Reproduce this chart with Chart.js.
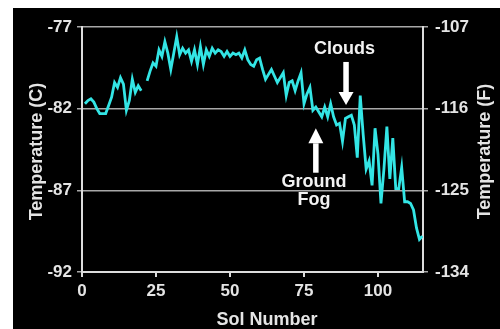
<!DOCTYPE html>
<html>
<head>
<meta charset="utf-8">
<script src="https://cdn.jsdelivr.net/npm/chart.js@4/dist/chart.umd.min.js"></script>
<style>
  html, body { margin: 0; padding: 0; background: #fff; }
  canvas { display: block; }
</style>
</head>
<body>
<canvas id="c" width="500" height="329"></canvas>
<script>
// Daily temperature record, sol by sol (null = no reading)
const sols = [
  1, 2, 3, 4, 5, 6, 7, 8, 9, 10,
  11, 12, 13, 14, 15, 16, 17, 18, 19, 20,
  21, 22, 23, 24, 25, 26, 27, 28, 29, 30,
  31, 32, 33, 34, 35, 36, 37, 38, 39, 40,
  41, 42, 43, 44, 45, 46, 47, 48, 49, 50,
  51, 52, 53, 54, 55, 56, 57, 58, 59, 60,
  61, 62, 63, 64, 65, 66, 67, 68, 69, 70,
  71, 72, 73, 74, 75, 76, 77, 78, 79, 80,
  81, 82, 83, 84, 85, 86, 87, 88, 89, 90,
  91, 92, 93, 94, 95, 96, 97, 98, 99, 100,
  101, 102, 103, 104, 105, 106, 107, 108, 109, 110,
  111, 112, 113, 114, 115
];
const tempC = [
  -81.7, -81.5, -81.4, -81.6, -82.0, -82.3, -82.3, -82.3, -81.8, -81.3,
  -80.4, -80.7, -80.1, -80.5, -82.1, -81.5, -80.2, -81.0, -80.6, -80.9,
  null, -80.3, -79.7, -79.2, -79.4, -78.4, -78.8, -77.9, -78.6, -79.6,
  -78.6, -77.6, -78.7, -78.3, -78.6, -78.4, -79.1, -78.4, -79.3, -78.2,
  -79.3, -78.4, -78.8, -78.3, -78.6, -78.4, -78.5, -78.8, -78.5, -78.8,
  -78.6, -78.7, -78.6, -78.9, -78.4, -79.0, -79.3, -79.4, -79.0, -78.9,
  -79.6, -80.2, -79.9, -79.6, -80.0, -80.4, -80.1, -79.8, -81.2, -80.4,
  -80.3, -80.9, -80.3, -79.8, -81.7, -81.1, -80.7, -82.1, -81.9, -82.2,
  -82.5, -81.9, -82.5, -81.7, -82.5, -83.0, -82.9, -84.0, -82.6, -82.5,
  -82.4, -83.0, -85.0, -81.2, -83.6, -85.7, -85.2, -86.7, -83.2, -84.8,
  -87.8, -85.7, -83.1, -86.3, -83.8, -86.9, -86.9, -85.6, -87.7, -87.7,
  -87.8, -88.2, -89.3, -90.0, -89.8
];

const xTicks = [0, 25, 50, 75, 100];
const cTicks = [-92, -87, -82, -77];
const fTicks = [-134, -125, -116, -107];

// Callouts: label lines, arrow sol, arrow tail / tip temperatures
const calloutClouds = { text: ['Clouds'], sol: 89.2, textSol: 88.7, textC: [-78.35], tailC: -79.14, baseC: -80.98, tipC: -81.78 };
const calloutFog = { text: ['Ground', 'Fog'], sol: 79.0, textSol: 78.4, textC: [-86.49, -87.59], tailC: -85.86, baseC: -84.12, tipC: -83.2 };

const FONT = "'Liberation Sans', Arial, sans-serif";
const TEXT = '#e4e4e4';
const AXIS = '#dcdcdc';
const GRID = '#a8a8a8';

const background = {
  id: 'background',
  beforeDraw(chart) {
    const ctx = chart.ctx;
    ctx.save();
    ctx.fillStyle = '#ffffff';
    ctx.fillRect(0, 0, chart.width, chart.height);
    ctx.fillStyle = '#000000';
    ctx.fillRect(13, 8, chart.width - 13, chart.height - 8);
    ctx.restore();
  }
};

function drawArrow(ctx, x, yTail, yBase, yTip) {
  ctx.fillStyle = '#ffffff';
  const shaft = 5.5, head = 15;
  // shaft
  const y0 = Math.min(yTail, yBase), y1 = Math.max(yTail, yBase);
  ctx.fillRect(x - shaft / 2, y0, shaft, y1 - y0 + 1);
  // head
  ctx.beginPath();
  ctx.moveTo(x - head / 2, yBase);
  ctx.lineTo(x + head / 2, yBase);
  ctx.lineTo(x, yTip);
  ctx.closePath();
  ctx.fill();
}

const callouts = {
  id: 'callouts',
  afterDatasetsDraw(chart) {
    const ctx = chart.ctx;
    const xs = chart.scales.x, ys = chart.scales.y;
    ctx.save();
    [calloutClouds, calloutFog].forEach(c => {
      const px = xs.getPixelForValue(c.sol);
      drawArrow(ctx, px, ys.getPixelForValue(c.tailC), ys.getPixelForValue(c.baseC), ys.getPixelForValue(c.tipC));
      ctx.fillStyle = '#f2f2f2';
      ctx.font = 'bold 18px ' + FONT;
      ctx.textAlign = 'center';
      ctx.textBaseline = 'middle';
      c.text.forEach((t, i) => {
        ctx.fillText(t, xs.getPixelForValue(c.textSol), ys.getPixelForValue(c.textC[i]));
      });
    });
    ctx.restore();
  }
};

const axisTitles = {
  id: 'axisTitles',
  afterDraw(chart) {
    const ctx = chart.ctx;
    const a = chart.chartArea;
    const midY = (a.top + a.bottom) / 2 + 2;
    ctx.save();
    ctx.fillStyle = TEXT;
    ctx.font = 'bold 18px ' + FONT;
    ctx.textAlign = 'center';
    ctx.textBaseline = 'middle';
    ctx.fillText('Sol Number', 267, 320);
    ctx.save();
    ctx.translate(37, midY);
    ctx.rotate(-Math.PI / 2);
    ctx.fillText('Temperature (C)', 0, 0);
    ctx.restore();
    ctx.save();
    ctx.translate(485, midY);
    ctx.rotate(-Math.PI / 2);
    ctx.fillText('Temperature (F)', 0, 0);
    ctx.restore();
    ctx.restore();
  }
};

const tickFont = { family: FONT, size: 17, weight: 'bold' };

new Chart(document.getElementById('c'), {
  type: 'line',
  data: {
    datasets: [{
      data: sols.map((s, i) => ({ x: s, y: tempC[i] })),
      borderColor: '#33e5e5',
      borderWidth: 2.8,
      pointRadius: 0,
      tension: 0,
      spanGaps: false,
      yAxisID: 'y'
    }]
  },
  options: {
    responsive: false,
    animation: false,
    layout: { padding: { top: 27, left: 0, right: 0, bottom: 0 } },
    plugins: { legend: { display: false }, tooltip: { enabled: false } },
    scales: {
      x: {
        type: 'linear',
        min: 0,
        max: 115.2,
        afterBuildTicks: s => { s.ticks = xTicks.map(v => ({ value: v })); },
        afterFit: s => { s.height = 57; },
        grid: { drawOnChartArea: false, color: AXIS, lineWidth: 2, tickLength: 5 },
        border: { color: AXIS, width: 2 },
        ticks: { color: TEXT, font: tickFont, padding: 4, maxRotation: 0 }
      },
      y: {
        position: 'left',
        min: -92,
        max: -77,
        afterBuildTicks: s => { s.ticks = cTicks.map(v => ({ value: v })); },
        afterFit: s => { s.width = 82; },
        grid: { color: GRID, lineWidth: 1.5, tickLength: 5 },
        border: { color: AXIS, width: 2 },
        ticks: { color: TEXT, font: tickFont, padding: 5 }
      },
      y2: {
        position: 'right',
        min: -134,
        max: -107,
        afterBuildTicks: s => { s.ticks = fTicks.map(v => ({ value: v })); },
        afterFit: s => { s.width = 77; },
        grid: { drawOnChartArea: false, color: GRID, lineWidth: 1.5, tickLength: 5 },
        border: { color: AXIS, width: 2 },
        ticks: { color: TEXT, font: tickFont, padding: 7 }
      }
    }
  },
  plugins: [background, callouts, axisTitles]
});
</script>
</body>
</html>
